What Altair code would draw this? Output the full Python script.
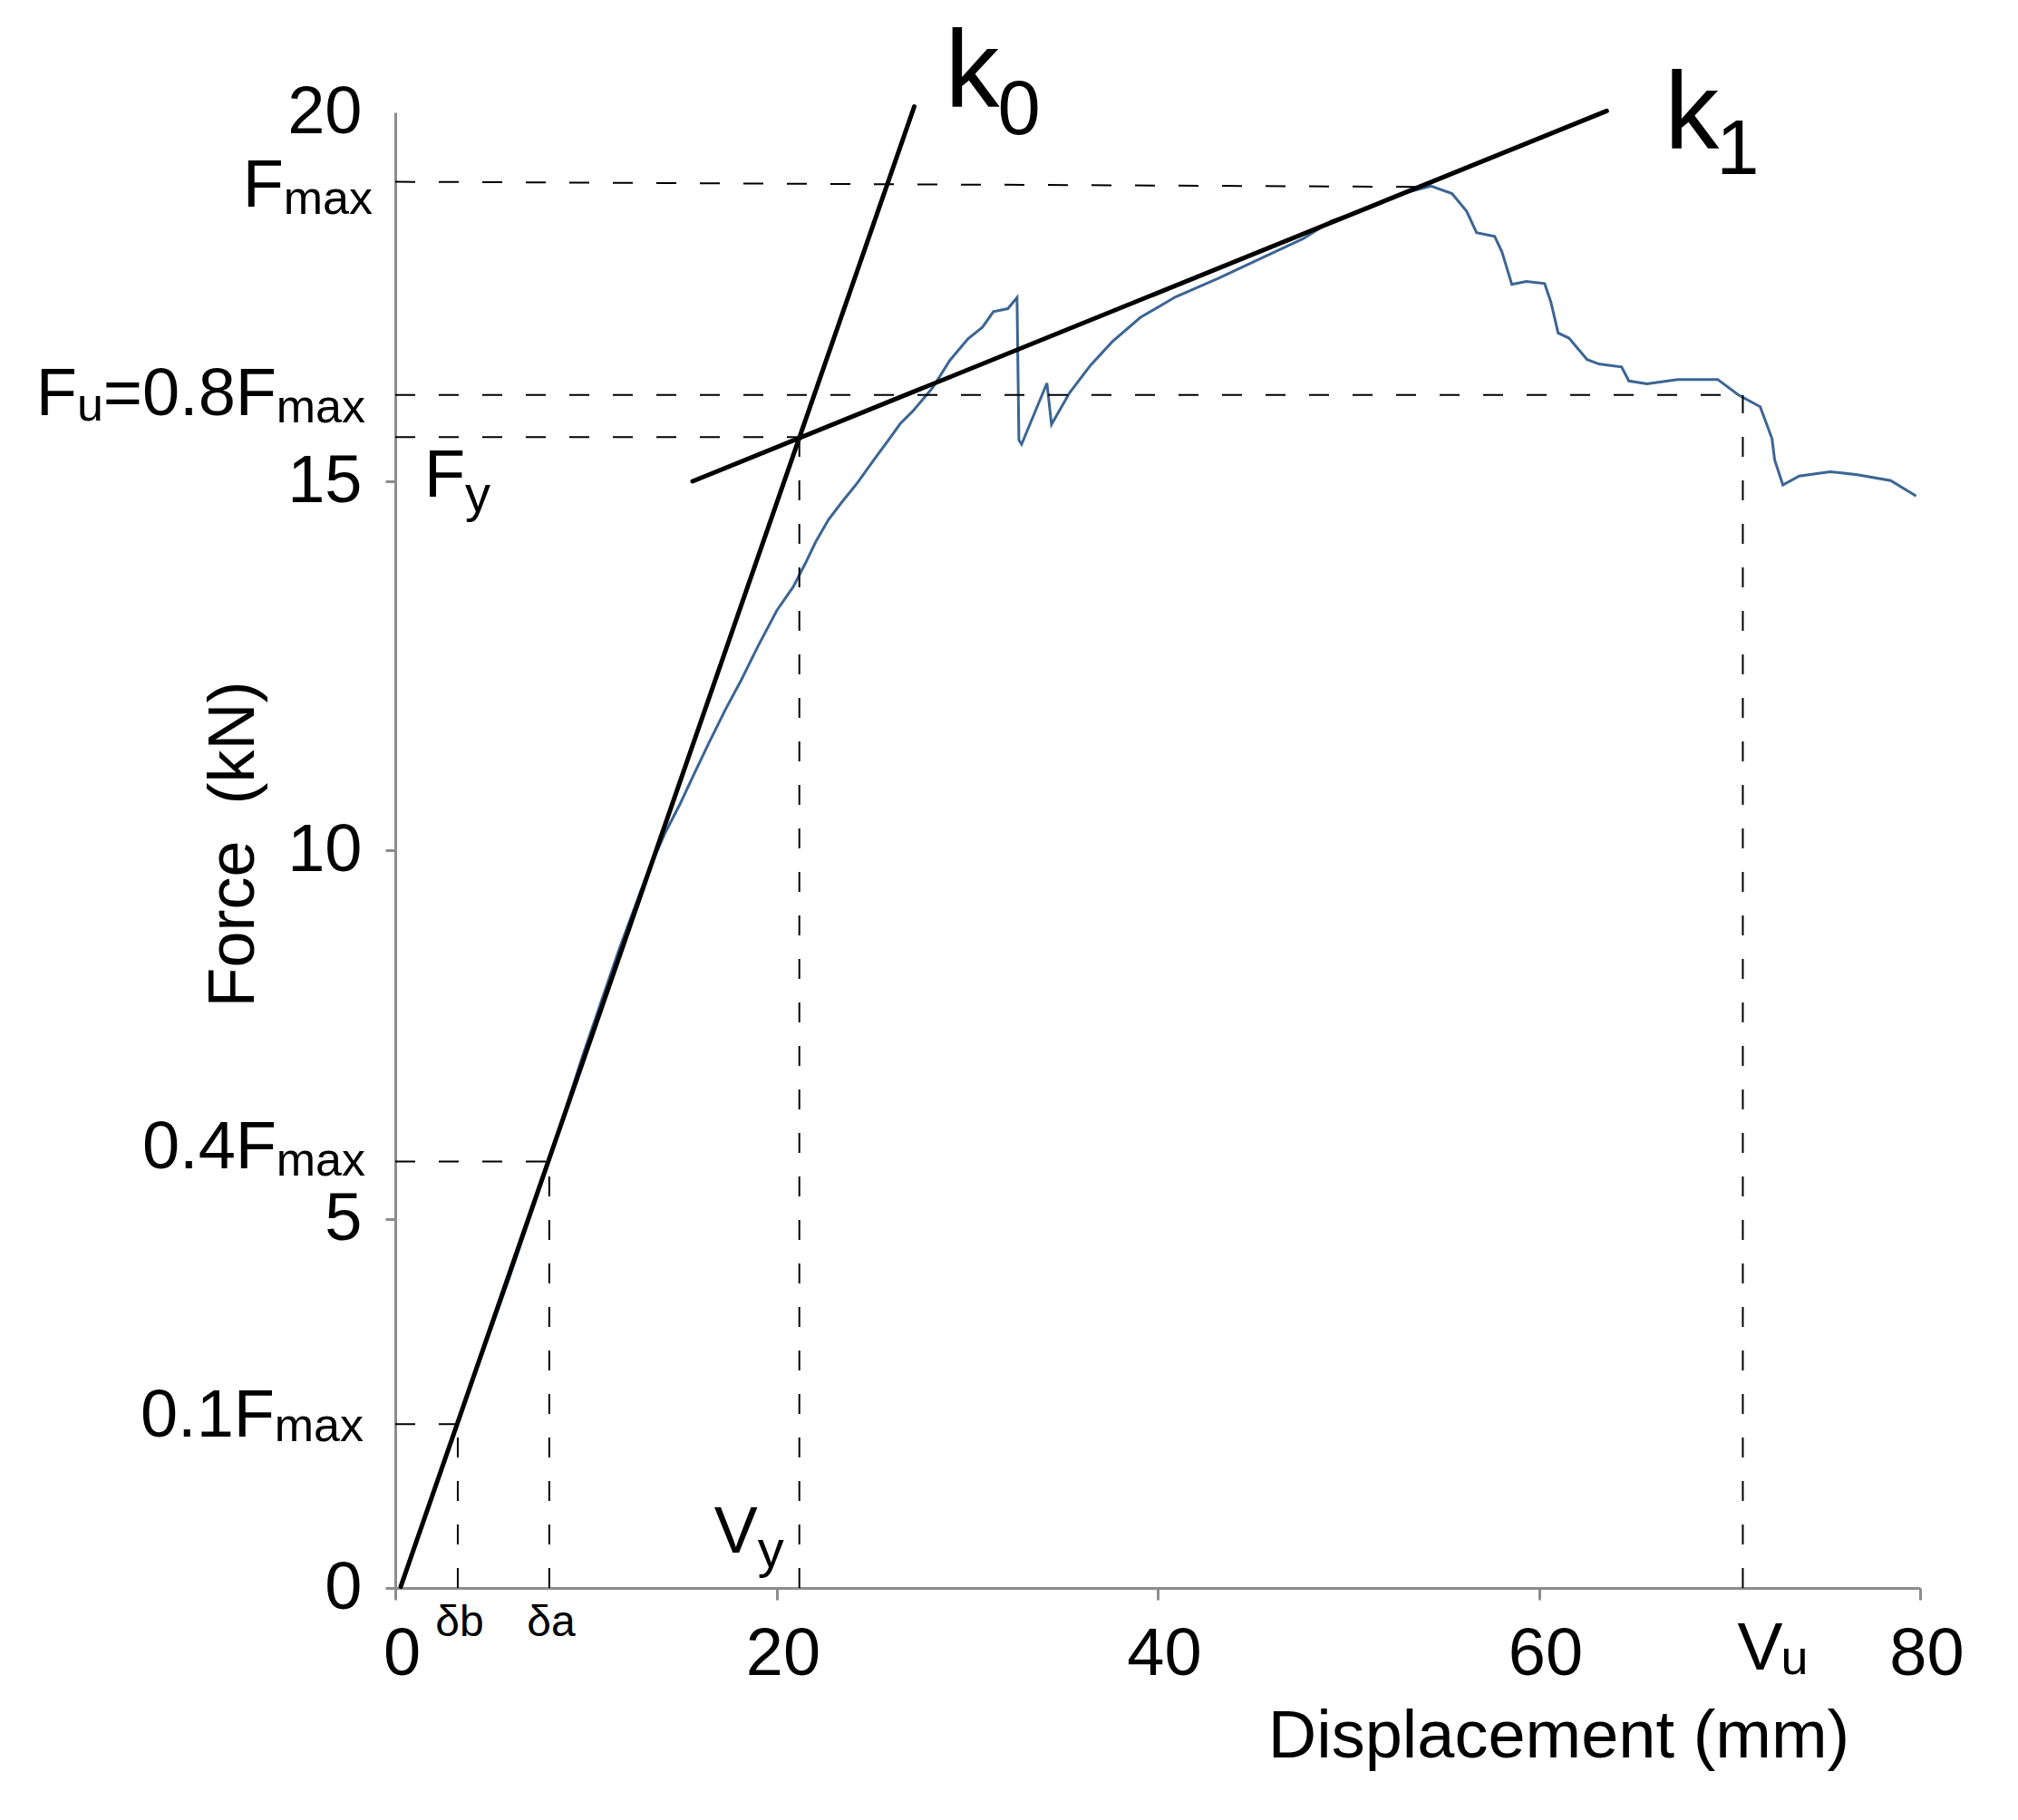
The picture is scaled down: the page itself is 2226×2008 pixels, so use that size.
import altair as alt
import pandas as pd

# ---------------- data ----------------
disp = [0.29, 3.99, 5.90, 8.08, 9.84, 11.75, 13.17, 14.17, 14.93, 15.60,
        16.45, 17.31, 18.16, 19.02, 20.02, 20.88, 21.54, 22.06, 22.73, 23.44,
        24.25, 25.11, 25.82, 26.49, 27.15, 28.20, 29.10, 30.05, 30.81, 31.38,
        32.14, 32.62, 32.72, 32.86, 34.19, 34.43, 35.38, 36.47, 37.61, 39.09,
        40.94, 43.18, 45.41, 47.65, 49.12, 50.97, 52.83, 54.35, 55.44, 56.21,
        56.73, 57.68, 58.06, 58.58, 59.34, 60.30, 60.63, 61.01, 61.58, 62.53,
        63.15, 64.34, 64.72, 65.67, 67.28, 69.38, 70.47, 71.61, 72.23, 72.37,
        72.80, 73.66, 75.27, 76.70, 78.46, 79.79]
force = [0.03, 2.76, 4.14, 5.80, 7.22, 8.66, 9.65, 10.24, 10.62, 10.99,
         11.45, 11.90, 12.31, 12.76, 13.25, 13.57, 13.90, 14.18, 14.48, 14.72,
         14.98, 15.29, 15.54, 15.78, 15.95, 16.27, 16.64, 16.93, 17.09, 17.30,
         17.34, 17.49, 15.56, 15.50, 16.33, 15.77, 16.20, 16.57, 16.89, 17.22,
         17.50, 17.75, 18.02, 18.29, 18.53, 18.69, 18.90, 19.00, 18.90, 18.66,
         18.37, 18.32, 18.11, 17.67, 17.71, 17.68, 17.43, 17.01, 16.94, 16.65,
         16.59, 16.55, 16.36, 16.32, 16.38, 16.38, 16.17, 16.01, 15.58, 15.29,
         14.95, 15.07, 15.13, 15.09, 15.01, 14.80]

# characteristic values (as drawn)
F_MAX = 19.06
F_MAX_END = 18.99
X_FMAX = 54.35
F_U = 16.17
F_Y = 15.60
F_04 = 5.78
F_01 = 2.22
D_B = 3.28
D_A = 8.08
V_Y = 21.2
V_U = 70.7

k0_x = [0.29, 27.23]
k0_y = [0.02, 20.08]
k1_x = [15.6, 63.56]
k1_y = [15.0, 20.02]

x_ticks = [0, 20, 40, 60, 80]
y_ticks = [0, 5, 10, 15, 20]

x_title = "Displacement (mm)"
y_title = "Force\u00a0 (kN)"

# ---------------- style ----------------
FONT = "Liberation Sans, Arial, sans-serif"
GRAY = "#8c8c8c"
BLUE = "#3b6594"
DASH = [22, 26]

xs = alt.Scale(domain=[0, 80], nice=False, zero=False)
ys = alt.Scale(domain=[0, 20], nice=False, zero=False)

curve_df = pd.DataFrame({"x": disp, "y": force, "i": list(range(len(disp)))})

x_axis = alt.Axis(values=x_ticks, title=x_title, titleX=1283, titleY=186,
                  titleAlign="center", titleBaseline="alphabetic",
                  titleFont=FONT, titleFontSize=74, titleFontWeight="normal",
                  titleColor="black", labelFont=FONT, labelFontSize=74,
                  labelColor="black", labelPadding=24, labelOffset=7,
                  labelFlush=False, labelOverlap=False,
                  tickSize=13, tickWidth=3, tickColor=GRAY,
                  domainColor=GRAY, domainWidth=3, grid=False)
y_axis = alt.Axis(values=y_ticks, title=y_title, titleAngle=270,
                  titleX=-157, titleY=807, titleAlign="center",
                  titleBaseline="alphabetic", titleFont=FONT,
                  titleFontSize=72, titleFontWeight="normal",
                  titleColor="black", labelFont=FONT, labelFontSize=74,
                  labelColor="black", labelPadding=26, labelFlush=False,
                  labelOverlap=False, tickSize=11, tickWidth=3,
                  tickColor=GRAY,
                  tickOpacity={"condition": {"test": "datum.value == 20", "value": 0}, "value": 1},
                  domainColor=GRAY, domainWidth=3, grid=False)


def X(field):
    return alt.X(field, scale=xs, axis=x_axis)


def Y(field):
    return alt.Y(field, scale=ys, axis=y_axis)


curve = alt.Chart(curve_df).mark_line(color=BLUE, strokeWidth=3).encode(
    x=X("x:Q"), y=Y("y:Q"), order="i:Q",
)

# dashed guide lines
rules_df = pd.DataFrame({
    "x": [0, 0, 0, 0, 0, D_B, D_A, V_Y, V_U],
    "x1": [X_FMAX, V_U, V_Y, D_A, D_B, D_B, D_A, V_Y, V_U],
    "y": [F_MAX, F_U, F_Y, F_04, F_01, 0, 0, 0, 0],
    "y1": [F_MAX_END, F_U, F_Y, F_04, F_01, F_01, F_04, F_Y, F_U],
})
rules = alt.Chart(rules_df).mark_rule(color="black", strokeWidth=2, strokeDash=DASH).encode(
    x=X("x:Q"), x2="x1:Q", y=Y("y:Q"), y2="y1:Q",
)

k_df = pd.DataFrame({
    "x": k0_x + k1_x,
    "y": k0_y + k1_y,
    "k": ["k0", "k0", "k1", "k1"],
})
klines = alt.Chart(k_df).mark_line(color="black", strokeWidth=5, strokeCap="round").encode(
    x=X("x:Q"), y=Y("y:Q"), detail="k:N",
)


def txt(s, xv, yv, dx, dy, size, align="left"):
    df = pd.DataFrame({"x": [xv], "y": [yv], "t": [s]})
    return alt.Chart(df).mark_text(
        dx=dx, dy=dy, fontSize=size, align=align, baseline="alphabetic",
        font=FONT, color="black"
    ).encode(x=X("x:Q"), y=Y("y:Q"), text="t:N")


SUB = 52
texts = [
    # k0 / k1
    txt("k", k0_x[1], k0_y[1], 34, 0, 120),
    txt("0", k0_x[1], k0_y[1], 92, 31, 85),
    txt("k", k1_x[1], k1_y[1], 64, 41, 120),
    txt("1", k1_x[1], k1_y[1], 121, 70, 85),
    # Fmax
    txt("max", 0, F_MAX, -25, 35, SUB, "right"),
    txt("F", 0, F_MAX, -123, 27, 74, "right"),
    # Fu = 0.8 Fmax
    txt("max", 0, F_U, -33, 30, SUB, "right"),
    txt("=0.8F", 0, F_U, -131, 22, 74, "right"),
    txt("u", 0, F_U, -322, 28, SUB, "right"),
    txt("F", 0, F_U, -351, 22, 74, "right"),
    # Fy
    txt("F", 0, F_Y, 32, 66, 74),
    txt("y", 0, F_Y, 77, 82, 56),
    # 0.4 Fmax
    txt("max", 0, F_04, -33, 15, SUB, "right"),
    txt("0.4F", 0, F_04, -131, 7, 74, "right"),
    # 0.1 Fmax
    txt("max", 0, F_01, -35, 19, SUB, "right"),
    txt("0.1F", 0, F_01, -133, 14, 74, "right"),
    # delta labels
    txt("\u03b4b", D_B, 0, 2, 53, 48, "center"),
    txt("\u03b4a", D_A, 0, 2, 53, 48, "center"),
    # Vy
    txt("V", V_Y, 0, -94, -39, 72),
    txt("y", V_Y, 0, -46, -23, 58),
    # Vu
    txt("V", V_U, 0, -6, 90, 75),
    txt("u", V_U, 0, 42, 95, 54),
]

chart = alt.layer(curve, rules, klines, *texts).properties(
    width=1682,
    height=1628,
    background="white",
    padding={"left": 428, "top": 116, "right": 100, "bottom": 240},
    autosize=alt.AutoSizeParams(type="none"),
).configure_view(stroke="transparent", strokeWidth=0)

chart.save("out.html", embed_options={"renderer": "svg", "actions": False})
